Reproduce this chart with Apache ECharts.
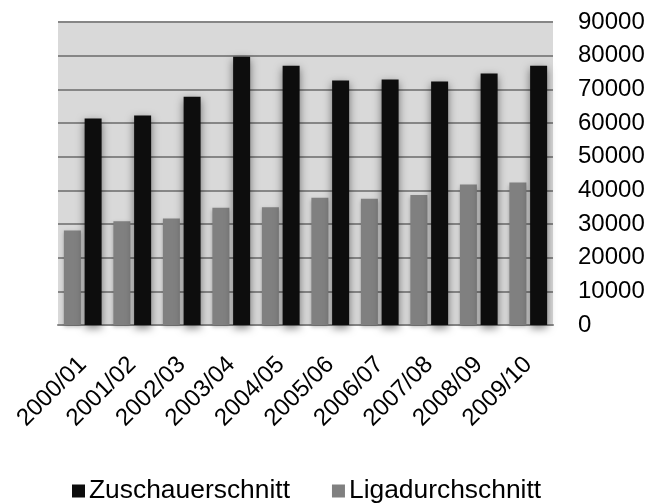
<!DOCTYPE html>
<html>
<head>
<meta charset="utf-8">
<title>Zuschauerschnitt</title>
<script src="https://cdn.jsdelivr.net/npm/echarts@6/dist/echarts.min.js"></script>
<style>
  html, body { margin: 0; padding: 0; background: #fff; }
  #chart { width: 654px; height: 504px; }
</style>
</head>
<body>
<div id="chart"></div>
<script>
// Seasons on the category axis
const seasons = ['2000/01', '2001/02', '2002/03', '2003/04', '2004/05',
                 '2005/06', '2006/07', '2007/08', '2008/09', '2009/10'];
// Average attendance of the club per season
const zuschauerschnitt = [61300, 62200, 67800, 79700, 77000, 72600, 72900, 72300, 74700, 77000];
// League-wide average attendance per season
const ligadurchschnitt = [28100, 30800, 31600, 34800, 35000, 37800, 37500, 38600, 41700, 42300];
// Value axis range
const yMin = 0;
const yMax = 90000;
const yStep = 10000;

const FONT = "'Liberation Sans', Arial, sans-serif";
const chart = echarts.init(document.getElementById('chart'), null, { renderer: 'canvas' });

chart.setOption({
  animation: false,
  backgroundColor: '#ffffff',
  textStyle: { fontFamily: FONT, color: '#000' },
  grid: {
    left: 58, right: 101, top: 22, bottom: 179,
    show: true, backgroundColor: '#d9d9d9', borderWidth: 0
  },
  legend: {
    data: ['Zuschauerschnitt', 'Ligadurchschnitt'],
    left: 72, top: 478,
    padding: 0,
    itemWidth: 13, itemHeight: 13, itemGap: 42,
    icon: 'rect',
    textStyle: { fontFamily: FONT, fontSize: 26.4, color: '#000', padding: [0, 0, 0, -1] }
  },
  xAxis: {
    type: 'category',
    data: seasons,
    axisTick: { show: false },
    axisLine: { show: true, lineStyle: { color: '#868686', width: 2 } },
    axisLabel: {
      rotate: 45,
      margin: 36,
      fontFamily: FONT, fontSize: 24, color: '#000'
    }
  },
  yAxis: {
    type: 'value',
    position: 'right',
    min: yMin, max: yMax, interval: yStep,
    axisLine: { show: false },
    axisTick: { show: false },
    splitLine: { show: true, lineStyle: { color: '#868686', width: 2 } },
    axisLabel: {
      margin: 25, align: 'left',
      formatter: v => String(v),
      fontFamily: FONT, fontSize: 24, color: '#000'
    }
  },
  series: [
    {
      name: 'Ligadurchschnitt',
      type: 'bar',
      data: ligadurchschnitt,
      barWidth: 17,
      barGap: '22%',
      itemStyle: {
        color: '#808080',
        shadowColor: 'rgba(0,0,0,0.25)', shadowBlur: 4, shadowOffsetY: 2
      }
    },
    {
      name: 'Zuschauerschnitt',
      type: 'bar',
      data: zuschauerschnitt,
      barWidth: 17,
      barGap: '22%',
      itemStyle: {
        color: '#0d0d0d',
        shadowColor: 'rgba(0,0,0,0.5)', shadowBlur: 8, shadowOffsetY: 3
      }
    }
  ]
});
</script>
</body>
</html>
